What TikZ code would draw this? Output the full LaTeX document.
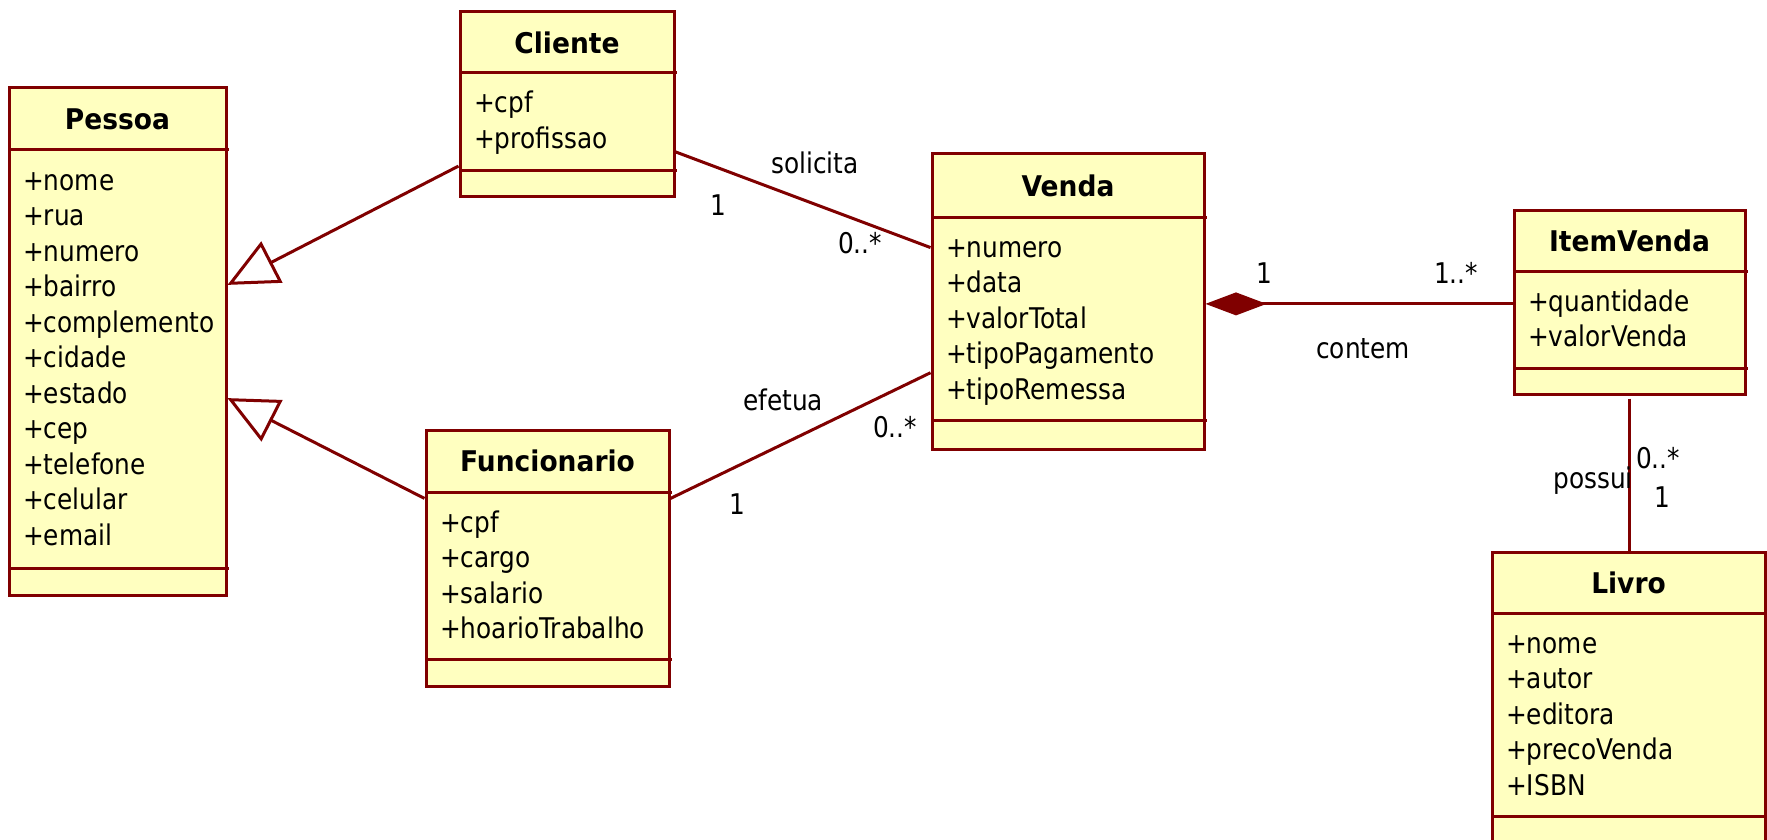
\documentclass[tikz,border=0pt]{standalone}
\usepackage{fontspec}
\setmainfont{DejaVu Sans}[FakeStretch=0.87, BoldFeatures={FakeStretch=0.93}]
\usetikzlibrary{arrows.meta,calc,fit}

\definecolor{umlred}{RGB}{128,0,0}
\definecolor{umlfill}{RGB}{255,255,192}

\tikzset{
  umlline/.style={draw=umlred, line width=3pt},
  classbox/.style={umlline, fill=umlfill, inner sep=0pt},
  classtitle/.style={font=\bfseries\fontsize{28.5}{34}\selectfont, inner sep=0pt},
  attr/.style={font=\fontsize{28.5}{34}\selectfont, inner sep=0pt, anchor=base west},
  lbl/.style={font=\fontsize{28.5}{34}\selectfont, inner sep=0pt, anchor=base},
  assoc/.style={umlline},
  inherit/.style={umlline, -{Triangle[open, length=50pt, width=46pt, fill=white]}},
  compose/.style={umlline, {Diamond[length=61pt, width=23pt, fill=umlred]}-},
}

% \umlclass{name}{left}{top}{right}{bottom}{title rule}{operations rule}{title}{attributes}
\newcommand{\umlclass}[9]{%
  \node[classbox, fit={(#2,#3) (#4,#5)}] (#1) {};
  \draw[umlline] (#2,#6) -- ({#4+3},#6);
  \draw[umlline] (#2,#7) -- ({#4+3},#7);
  \node[classtitle] (#1-title) at ({(#2+#4)/2},{(#3+#6)/2}) {#8};
  \foreach \txt [count=\k] in {#9}
    \node[attr] (#1-attr\k) at ({#2+14},{#6+40+(\k-1)*35.5}) {\txt};
}

\begin{document}
\begin{tikzpicture}[x=1pt, y=-1pt]
  \useasboundingbox (0,0) rectangle (1767,840);
  \clip (0,0) rectangle (1767,840);
  \fill[white] (0,0) rectangle (1767,840);

  % classes
  \umlclass{pessoa}{9}{88}{226}{595}{150}{568}{Pessoa}
    {+nome,+rua,+numero,+bairro,+complemento,+cidade,+estado,+cep,+telefone,+celular,+email}
  \umlclass{cliente}{460}{12}{674}{196}{73}{170}{Cliente}{+cpf,+profissao}
  \umlclass{funcionario}{426}{430}{669}{686}{492}{659}{Funcionario}
    {+cpf,+cargo,+salario,+hoarioTrabalho}
  \umlclass{venda}{932}{154}{1204}{449}{217}{420}{Venda}
    {+numero,+data,+valorTotal,+tipoPagamento,+tipoRemessa}
  \umlclass{itemvenda}{1514}{210}{1745}{394}{271}{368}{ItemVenda}{+quantidade,+valorVenda}
  \umlclass{livro}{1492}{552}{1765}{870}{613}{816}{Livro}
    {+nome,+autor,+editora,+precoVenda,+ISBN}

  % generalizations
  \draw[inherit] ($(cliente.north west)!0.832!(cliente.south west)$)
    -- ($(pessoa.north east)!0.389!(pessoa.south east)$);
  \draw[inherit] ($(funcionario.north west)!0.27!(funcionario.south west)$)
    -- ($(pessoa.north east)!0.611!(pessoa.south east)$);

  % associations
  \draw[assoc] ($(cliente.north east)!0.756!(cliente.south east)$)
    -- ($(venda.north west)!0.319!(venda.south west)$);
  \draw[assoc] ($(venda.north west)!0.739!(venda.south west)$)
    -- ($(funcionario.north east)!0.27!(funcionario.south east)$);
  \coordinate (vendaR) at ($(venda.north east)!0.508!(venda.south east)$);
  \draw[compose] (vendaR) -- (vendaR -| itemvenda.west);
  \draw[assoc] ([yshift=-3pt]itemvenda.south) -- (itemvenda.south |- livro.north);

  % association names and multiplicities
  \node[lbl] (l-solicita) at (815,173) {solicita};
  \node[lbl] (m-cli) at (718,215) {1};
  \node[lbl] (m-vcli) at (860,253) {0..*};
  \node[lbl] (l-efetua) at (783,410) {efetua};
  \node[lbl] (m-vfun) at (895,437) {0..*};
  \node[lbl] (m-fun) at (737,514) {1};
  \node[lbl] (m-venda) at (1264,283) {1};
  \node[lbl] (m-item) at (1456,283) {1..*};
  \node[lbl] (l-contem) at (1363,358) {contem};
  \node[lbl, anchor=base east] (l-possui) at (1633,488) {possui};
  \node[lbl, anchor=base west] (m-ilivro) at (1636,468) {0..*};
  \node[lbl] (m-livro) at (1662,507) {1};
\end{tikzpicture}
\end{document}
